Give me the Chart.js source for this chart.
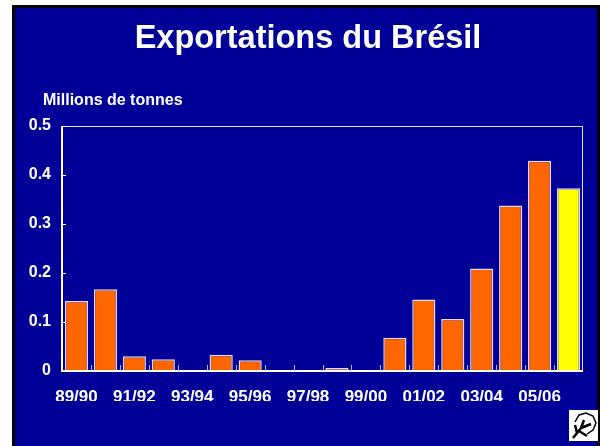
<!DOCTYPE html>
<html lang="fr">
<head>
    <meta charset="UTF-8">
    <title>Exportations du Brésil</title>
    <script src="https://cdn.jsdelivr.net/npm/chart.js"></script>
    <style>
        body {
            margin: 0;
            background-color: #ffffff;
            font-family: "Liberation Sans", Arial, sans-serif;
        }

        #frame {
            position: absolute;
            left: 12px;
            top: 5px;
            width: 582px;
            height: 441px;
            background-color: #000099;
            border-left: 3px solid #000;
            border-top: 3px solid #000;
            border-right: 3px solid #000;
            box-sizing: content-box;
        }

        #chart {
            position: absolute;
            left: 0;
            top: 0;
        }

        #logo {
            position: absolute;
            left: 569px;
            top: 410px;
        }
    </style>
</head>
<body>

    <div id="frame"></div>
    <canvas id="chart" width="602" height="446"></canvas>
    <svg id="logo" width="29" height="31" viewBox="0 0 29 31">
        <rect x="0" y="0" width="29" height="31" fill="#fff"/>
        <path d="M6 12 L10 5 L17 3 L24 6 L27 13 L24 20 L18 24" fill="none" stroke="#000" stroke-width="1.5"/>
        <path d="M4 28 L12 18 L15 10 M12 18 L22 14 M10 21 L18 26 M8 23 L6 15" fill="none" stroke="#000" stroke-width="2.5"/>
    </svg>

    <script>
        // campagnes (every other label is printed on the axis)
        const seasons = ['89/90', '90/91', '91/92', '92/93', '93/94', '94/95', '95/96', '96/97', '97/98',
                         '98/99', '99/00', '00/01', '01/02', '02/03', '03/04', '04/05', '05/06', '06/07'];
        // millions de tonnes
        const exports = [0.143, 0.167, 0.030, 0.024, 0.002, 0.033, 0.022, 0, 0.002,
                         0.006, 0.002, 0.068, 0.146, 0.106, 0.209, 0.338, 0.429, 0.373];
        // last season is an estimate -> yellow
        const barColors = seasons.map((s, i) => i === seasons.length - 1 ? '#ffff00' : '#ff6600');
        const yTicks = [0, 0.1, 0.2, 0.3, 0.4, 0.5];

        const font = "'Liberation Sans', Arial, sans-serif";

        // title, frame, inner ticks and the unit label
        const decor = {
            id: 'decor',
            afterDraw(chart) {
                const c = chart.ctx;
                const a = chart.chartArea;
                const x = chart.scales.x;
                const y = chart.scales.y;
                c.save();
                c.strokeStyle = '#e0e0ee';
                c.lineWidth = 1;
                c.strokeRect(a.left + 0.5, a.top + 0.5, a.right - a.left - 1, a.bottom - a.top);
                c.strokeStyle = '#ffffff';
                c.lineWidth = 2;
                c.beginPath();
                c.moveTo(a.left, a.top);
                c.lineTo(a.left, a.bottom);
                c.lineTo(a.right, a.bottom);
                c.stroke();

                // y ticks pointing inward
                c.lineWidth = 1;
                yTicks.forEach(v => {
                    const py = Math.round(y.getPixelForValue(v)) + 0.5;
                    c.beginPath();
                    c.moveTo(a.left, py);
                    c.lineTo(a.left + 4, py);
                    c.stroke();
                });

                // x ticks at category boundaries, inward
                c.strokeStyle = '#b8b8dd';
                const step = x.getPixelForValue(1) - x.getPixelForValue(0);
                for (let i = 1; i < seasons.length; i++) {
                    const px = Math.round(x.getPixelForValue(i) - step / 2) + 0.5;
                    c.beginPath();
                    c.moveTo(px, a.bottom);
                    c.lineTo(px, a.bottom - 6);
                    c.stroke();
                }

                c.fillStyle = '#ffffff';
                c.textBaseline = 'middle';
                c.textAlign = 'center';
                c.font = 'bold 32.5px ' + font;
                c.fillText('Exportations du Brésil', 308, 39);

                c.textAlign = 'left';
                c.font = 'bold 16px ' + font;
                c.fillText('Millions de tonnes', 43, 101);
                c.restore();
            }
        };

        const ctx = document.getElementById('chart').getContext('2d');
        const chart = new Chart(ctx, {
            type: 'bar',
            data: {
                labels: seasons,
                datasets: [{
                    data: exports,
                    backgroundColor: barColors,
                    borderColor: '#dcdcec',
                    borderWidth: 1.5,
                    categoryPercentage: 1,
                    barPercentage: 0.8
                }]
            },
            options: {
                responsive: false,
                animation: false,
                layout: {
                    padding: { top: 126, left: 15, right: 19, bottom: 45 }
                },
                plugins: {
                    legend: { display: false },
                    tooltip: { enabled: false },
                    title: { display: false }
                },
                scales: {
                    x: {
                        grid: { display: false },
                        border: { display: false },
                        ticks: {
                            color: '#ffffff',
                            font: { family: font, size: 17, weight: 'bold' },
                            padding: 8,
                            autoSkip: false,
                            maxRotation: 0,
                            callback: (v, i) => i % 2 === 0 ? seasons[i] : ''
                        },
                        afterFit: s => { s.height = 30; }
                    },
                    y: {
                        min: 0,
                        max: 0.5,
                        grid: { display: false },
                        border: { display: false },
                        afterBuildTicks: s => { s.ticks = yTicks.map(v => ({ value: v })); },
                        ticks: {
                            color: '#ffffff',
                            font: { family: font, size: 16, weight: 'bold' },
                            padding: 3,
                            callback: v => v === 0 ? '0' : v.toFixed(1)
                        },
                        afterFit: s => { s.width = 47; }
                    }
                }
            },
            plugins: [decor]
        });
    </script>

</body>
</html>
